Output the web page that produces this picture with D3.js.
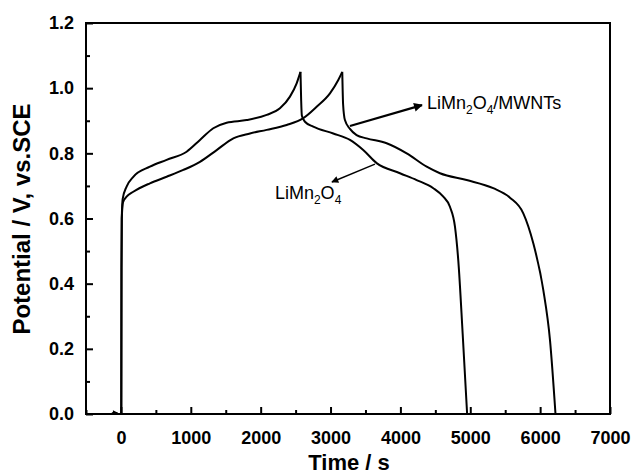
<!doctype html>
<html lang="en">
  <head>
    <meta charset="utf-8">
    <title>Charge/discharge curves</title>
    <style>
      body{ margin:0; background:#fff; }
      svg text{ font-family: "Liberation Sans", Arial, sans-serif; }
    </style>
  </head>
  <body>
    <svg id="chart" width="634" height="474"></svg>
    <script src="https://d3js.org/d3.v7.min.js"></script>
    <script>

      //[time (s), potential (V)]
      var chargeLMO = [[5,0],[8,0.45],[12,0.6],[25,0.66],[81,0.698],[177,0.728],[415,0.759],[654,0.78],[940,0.805],
        [1131,0.841],[1322,0.877],[1513,0.894],[1799,0.902],[2086,0.918],[2276,0.938],[2419,0.974],[2515,1.015],[2570,1.05]];
      var dischargeLMO = [[2570,1.05],[2580,0.96],[2590,0.915],[2634,0.897],[2753,0.882],[3039,0.861],[3278,0.841],[3468,0.81],
        [3660,0.77],[3994,0.739],[4232,0.718],[4471,0.693],[4614,0.667],[4709,0.636],[4781,0.575],[4829,0.47],
        [4891,0.247],[4955,0]];
      var chargeMW = [[5,0],[8,0.45],[12,0.6],[30,0.65],[81,0.667],[177,0.682],[415,0.708],[654,0.728],[893,0.749],
        [1131,0.774],[1370,0.81],[1609,0.846],[1847,0.861],[2086,0.872],[2372,0.887],[2610,0.908],[2801,0.943],
        [2992,0.984],[3111,1.025],[3168,1.05]];
      var dischargeMW = [[3168,1.05],[3180,0.95],[3206,0.902],[3278,0.875],[3373,0.856],[3517,0.846],[3803,0.831],[4090,0.8],
        [4376,0.759],[4566,0.739],[4948,0.718],[5328,0.693],[5568,0.664],[5759,0.616],[5902,0.524],[6045,0.381],
        [6141,0.227],[6220,0]];

      var xTicks = [0,1000,2000,3000,4000,5000,6000,7000];
      var yTicks = [0,0.2,0.4,0.6,0.8,1.0,1.2];

      var svg = d3.select("#chart");
      var margin = {left:86, right:24, top:23, bottom:60};
      var width = 634 - margin.left - margin.right;
      var height = 474 - margin.top - margin.bottom;

      var x = d3.scaleLinear().domain([-500,7000]).range([0,width]);
      var y = d3.scaleLinear().domain([0,1.2]).range([height,0]);

      var g = svg.append("g").attr("transform","translate(" + margin.left + "," + margin.top + ")");

      //curves
      var line = d3.line()
        .x(function(d){ return x(d[0]); })
        .y(function(d){ return y(d[1]); })
        .curve(d3.curveMonotoneX);

      [chargeLMO, dischargeLMO, chargeMW, dischargeMW].forEach(function(s){
        g.append("path")
          .datum(s)
          .attr("d", line)
          .attr("fill","none")
          .attr("stroke","#000")
          .attr("stroke-width",2);
      });

      //axes, ticks inward
      g.append("g").attr("transform","translate(0," + height + ")")
        .call(d3.axisBottom(x).tickValues(xTicks).tickSize(-7).tickPadding(17).tickFormat(d3.format("d")));
      g.append("g").attr("transform","translate(0," + height + ")")
        .call(d3.axisBottom(x).tickValues(d3.range(-500,7000,1000)).tickSize(-4).tickFormat(""));
      g.append("g")
        .call(d3.axisLeft(y).tickValues(yTicks).tickSize(-7).tickPadding(12).tickFormat(d3.format(".1f")));
      g.append("g")
        .call(d3.axisLeft(y).tickValues(d3.range(0.1,1.2,0.2)).tickSize(-4).tickFormat(""));

      g.selectAll(".domain").remove();
      g.selectAll(".tick line").attr("stroke","#000").attr("stroke-width",2);
      g.selectAll(".tick text")
        .attr("fill","#000")
        .style("font-size","18px")
        .style("font-weight","bold")
        .style("font-family","'Liberation Sans', Arial, sans-serif");

      //frame
      g.append("rect")
        .attr("width",width).attr("height",height)
        .attr("fill","none").attr("stroke","#000").attr("stroke-width",2);

      //axis titles
      svg.append("text")
        .attr("x", 349)
        .attr("y", 470)
        .attr("text-anchor","middle")
        .style("font-size","22px").style("font-weight","bold")
        .text("Time / s");
      svg.append("text")
        .attr("transform","translate(30,219) rotate(-90)")
        .attr("text-anchor","middle")
        .style("font-size","24px").style("font-weight","bold")
        .text("Potential / V, vs.SCE");

      //arrow heads
      var defs = svg.append("defs");
      defs.append("marker").attr("id","headBig")
        .attr("viewBox","0 0 10 10").attr("refX",9).attr("refY",5)
        .attr("markerWidth",6).attr("markerHeight",4).attr("orient","auto")
        .attr("markerUnits","strokeWidth")
        .append("path").attr("d","M0,0L10,5L0,10z").attr("fill","#000");
      defs.append("marker").attr("id","headSmall")
        .attr("viewBox","0 0 10 10").attr("refX",9).attr("refY",5)
        .attr("markerWidth",7).attr("markerHeight",5).attr("orient","auto")
        .attr("markerUnits","strokeWidth")
        .append("path").attr("d","M0,0L10,5L0,10z").attr("fill","#000");

      //label with subscripts
      function formula(sel, suffix){
        sel.append("tspan").text("LiMn");
        sel.append("tspan").attr("dy",5).style("font-size","12px").text("2");
        sel.append("tspan").attr("dy",-5).text("O");
        sel.append("tspan").attr("dy",5).style("font-size","12px").text("4");
        if(suffix){ sel.append("tspan").attr("dy",-5).text(suffix); }
      }

      //annotation: LiMn2O4/MWNTs
      g.append("line")
        .attr("x1",x(3278)).attr("y1",y(0.884))
        .attr("x2",x(4309)).attr("y2",y(0.948))
        .attr("stroke","#000").attr("stroke-width",2.2)
        .attr("marker-end","url(#headBig)");
      formula(g.append("text").attr("x",x(4380)).attr("y",y(0.936)).style("font-size","18px"), "/MWNTs");

      //annotation: LiMn2O4
      g.append("line")
        .attr("x1",x(3636)).attr("y1",y(0.767))
        .attr("x2",x(3020)).attr("y2",y(0.712))
        .attr("stroke","#000").attr("stroke-width",1.4)
        .attr("marker-end","url(#headSmall)");
      formula(g.append("text").attr("x",x(2204)).attr("y",y(0.66)).style("font-size","18px"), null);

      //small stray arrow on the baseline
      g.append("line")
        .attr("x1",x(-130)).attr("y1",y(0.004))
        .attr("x2",x(-50)).attr("y2",y(0.004))
        .attr("stroke","#000").attr("stroke-width",1)
        .attr("marker-end","url(#headSmall)");

    </script>
  </body>
</html>
